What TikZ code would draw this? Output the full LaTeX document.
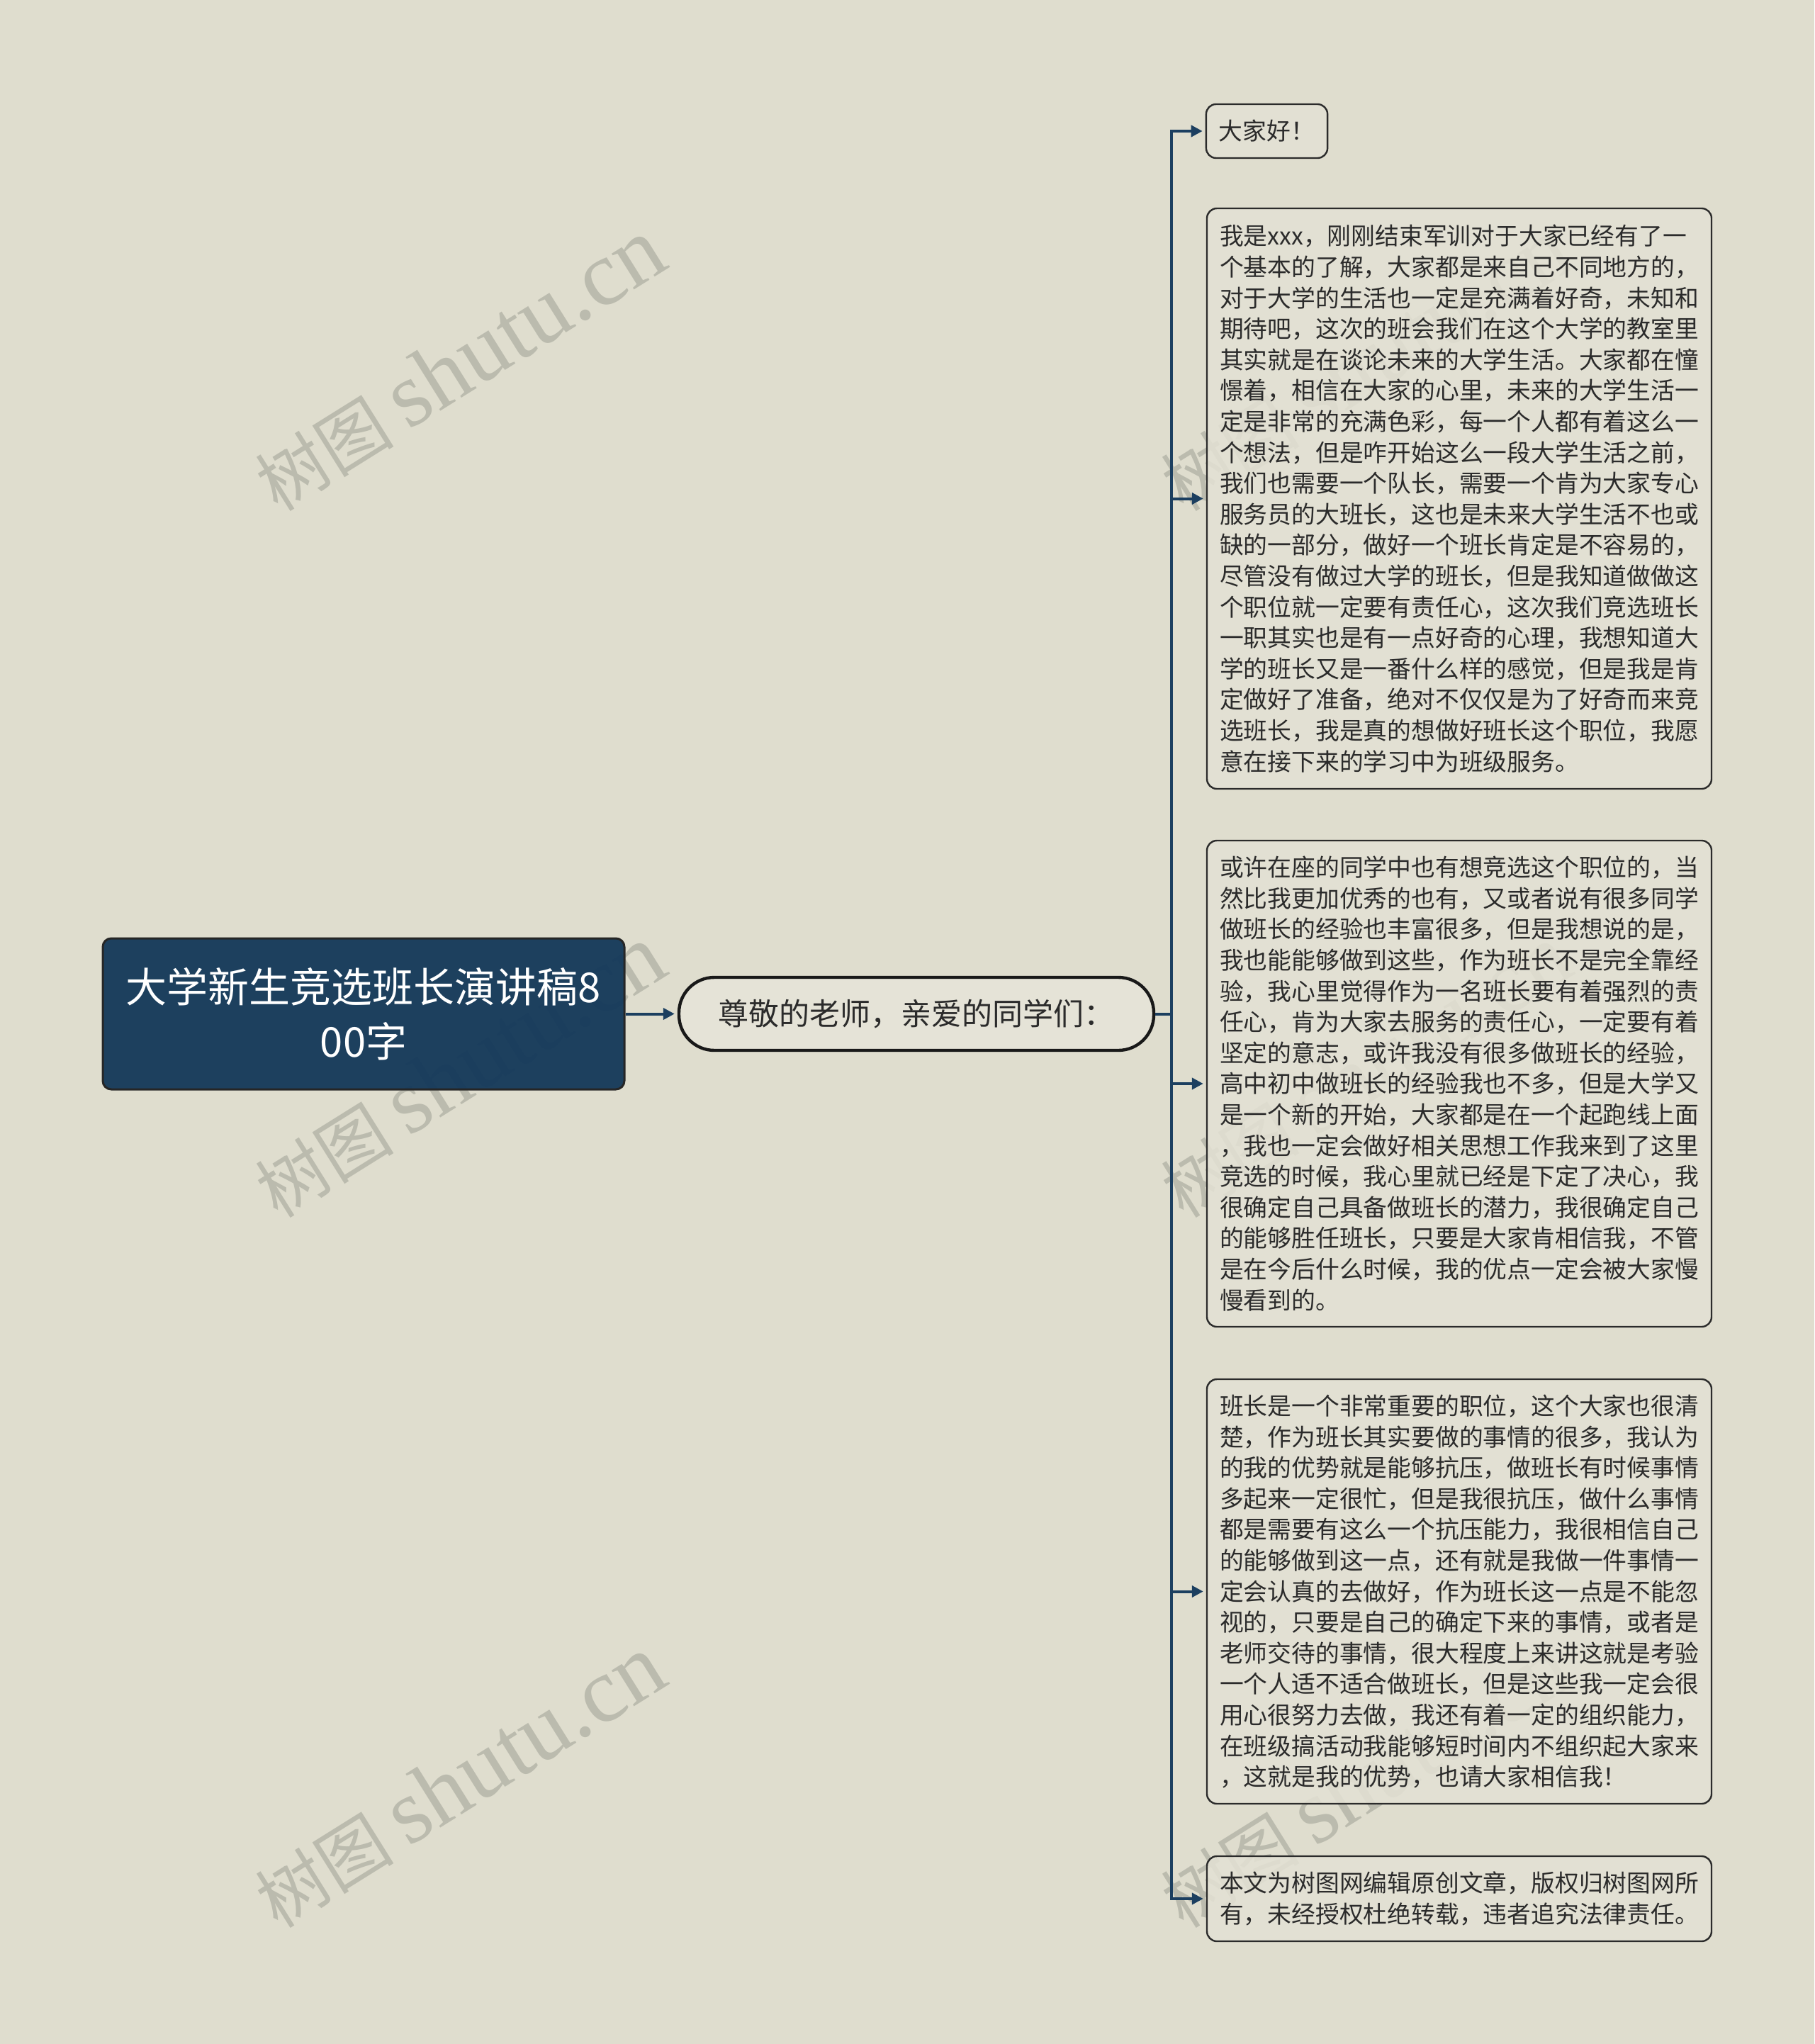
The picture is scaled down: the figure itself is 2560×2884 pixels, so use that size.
\documentclass[tikz,border=0pt]{standalone}
\usepackage{fontspec}
\setmainfont{Noto Sans CJK SC}
\newfontfamily\wmfont{Liberation Serif}
\usetikzlibrary{arrows.meta}
\definecolor{bgc}{HTML}{DFDDCE}
\definecolor{boxfill}{HTML}{E3E1D4}
\definecolor{pillfill}{HTML}{E6E4D9}
\definecolor{rootfill}{HTML}{133859}
\definecolor{connc}{HTML}{1C3F60}
\definecolor{txtc}{HTML}{2B2B2B}
\definecolor{wmc}{HTML}{BBBBAE}
\newcommand\cardfont{\fontsize{16.9pt}{21.8pt}\selectfont}
\tikzset{
  card/.style={draw=txtc, line width=1.2pt, rounded corners=7pt, fill=boxfill,
    fill opacity=0.85, text opacity=1, text=txtc, align=left,
    inner xsep=9pt, inner ysep=0pt, font=\cardfont},
  wide/.style={text width=338pt},
  rootbox/.style={draw=black!85, line width=1.5pt, rounded corners=6pt, fill=rootfill,
    fill opacity=0.95, text opacity=1, text=white, align=center,
    minimum width=368pt, minimum height=106.5pt, inner sep=0pt,
    font=\fontsize{29pt}{38.6pt}\selectfont},
  pill/.style={draw=black!90, line width=2.2pt, rounded corners=25pt, fill=pillfill,
    fill opacity=0.9, text opacity=1, text=txtc, minimum width=335pt,
    minimum height=51.5pt, inner sep=0pt, font=\fontsize{21.5pt}{26pt}\selectfont},
  conn/.style={draw=connc, line width=2pt},
  arr/.style={-{Triangle[length=8pt,width=8pt]}, shorten >=2pt},
  wmark/.style={rotate=32, text=wmc, inner sep=0pt, font=\fontsize{49pt}{60pt}\selectfont}
}
\begin{document}
\begin{tikzpicture}[x=0.5pt,y=-0.5pt]
\fill[bgc] (0,0) rectangle (2560,2884);
% watermarks
\foreach \wx/\wy in {648/515, 648/1512, 648/2514, 1926/515, 1926/1512, 1926/2514}
  \node[wmark] at (\wx,\wy) {树图 {\wmfont\fontsize{65pt}{70pt}\selectfont shutu.cn}};
% nodes
\node[rootbox] (root) at (513,1430.5) {大学新生竞选班长演讲稿8\\00字};
\node[pill] (hello) at (1293,1430.5) {尊敬的老师，亲爱的同学们：};
\node[card, minimum height=38pt] (c1) at (1787.5,185) {大家好！};
\node[card, wide, minimum height=409.5pt] (c2) at (2059,703.5) {我是xxx，刚刚结束军训对于大家已经有了一\\
个基本的了解，大家都是来自己不同地方的，\\
对于大学的生活也一定是充满着好奇，未知和\\
期待吧，这次的班会我们在这个大学的教室里\\
其实就是在谈论未来的大学生活。大家都在憧\\
憬着，相信在大家的心里，未来的大学生活一\\
定是非常的充满色彩，每一个人都有着这么一\\
个想法，但是咋开始这么一段大学生活之前，\\
我们也需要一个队长，需要一个肯为大家专心\\
服务员的大班长，这也是未来大学生活不也或\\
缺的一部分，做好一个班长肯定是不容易的，\\
尽管没有做过大学的班长，但是我知道做做这\\
个职位就一定要有责任心，这次我们竞选班长\\
一职其实也是有一点好奇的心理，我想知道大\\
学的班长又是一番什么样的感觉，但是我是肯\\
定做好了准备，绝对不仅仅是为了好奇而来竞\\
选班长，我是真的想做好班长这个职位，我愿\\
意在接下来的学习中为班级服务。};
\node[card, wide, minimum height=343pt] (c3) at (2059,1529) {或许在座的同学中也有想竞选这个职位的，当\\
然比我更加优秀的也有，又或者说有很多同学\\
做班长的经验也丰富很多，但是我想说的是，\\
我也能能够做到这些，作为班长不是完全靠经\\
验，我心里觉得作为一名班长要有着强烈的责\\
任心，肯为大家去服务的责任心，一定要有着\\
坚定的意志，或许我没有很多做班长的经验，\\
高中初中做班长的经验我也不多，但是大学又\\
是一个新的开始，大家都是在一个起跑线上面\\
，我也一定会做好相关思想工作我来到了这里\\
竞选的时候，我心里就已经是下定了决心，我\\
很确定自己具备做班长的潜力，我很确定自己\\
的能够胜任班长，只要是大家肯相信我，不管\\
是在今后什么时候，我的优点一定会被大家慢\\
慢看到的。};
\node[card, wide, minimum height=299.5pt] (c4) at (2059,2245.5) {班长是一个非常重要的职位，这个大家也很清\\
楚，作为班长其实要做的事情的很多，我认为\\
的我的优势就是能够抗压，做班长有时候事情\\
多起来一定很忙，但是我很抗压，做什么事情\\
都是需要有这么一个抗压能力，我很相信自己\\
的能够做到这一点，还有就是我做一件事情一\\
定会认真的去做好，作为班长这一点是不能忽\\
视的，只要是自己的确定下来的事情，或者是\\
老师交待的事情，很大程度上来讲这就是考验\\
一个人适不适合做班长，但是这些我一定会很\\
用心很努力去做，我还有着一定的组织能力，\\
在班级搞活动我能够短时间内不组织起大家来\\
，这就是我的优势，也请大家相信我！};
\node[card, wide, minimum height=60pt] (c5) at (2059,2679) {本文为树图网编辑原创文章，版权归树图网所\\
有，未经授权杜绝转载，违者追究法律责任。};
% connectors
\coordinate (spine) at (1653,1430.5);
\draw[conn, arr] (root.east) -- (hello.west);
\draw[conn] (hello.east) -- (spine);
\foreach \n in {c1,c2,c3,c4,c5}
  \draw[conn, arr] (spine) |- (\n.west);
\end{tikzpicture}
\end{document}
